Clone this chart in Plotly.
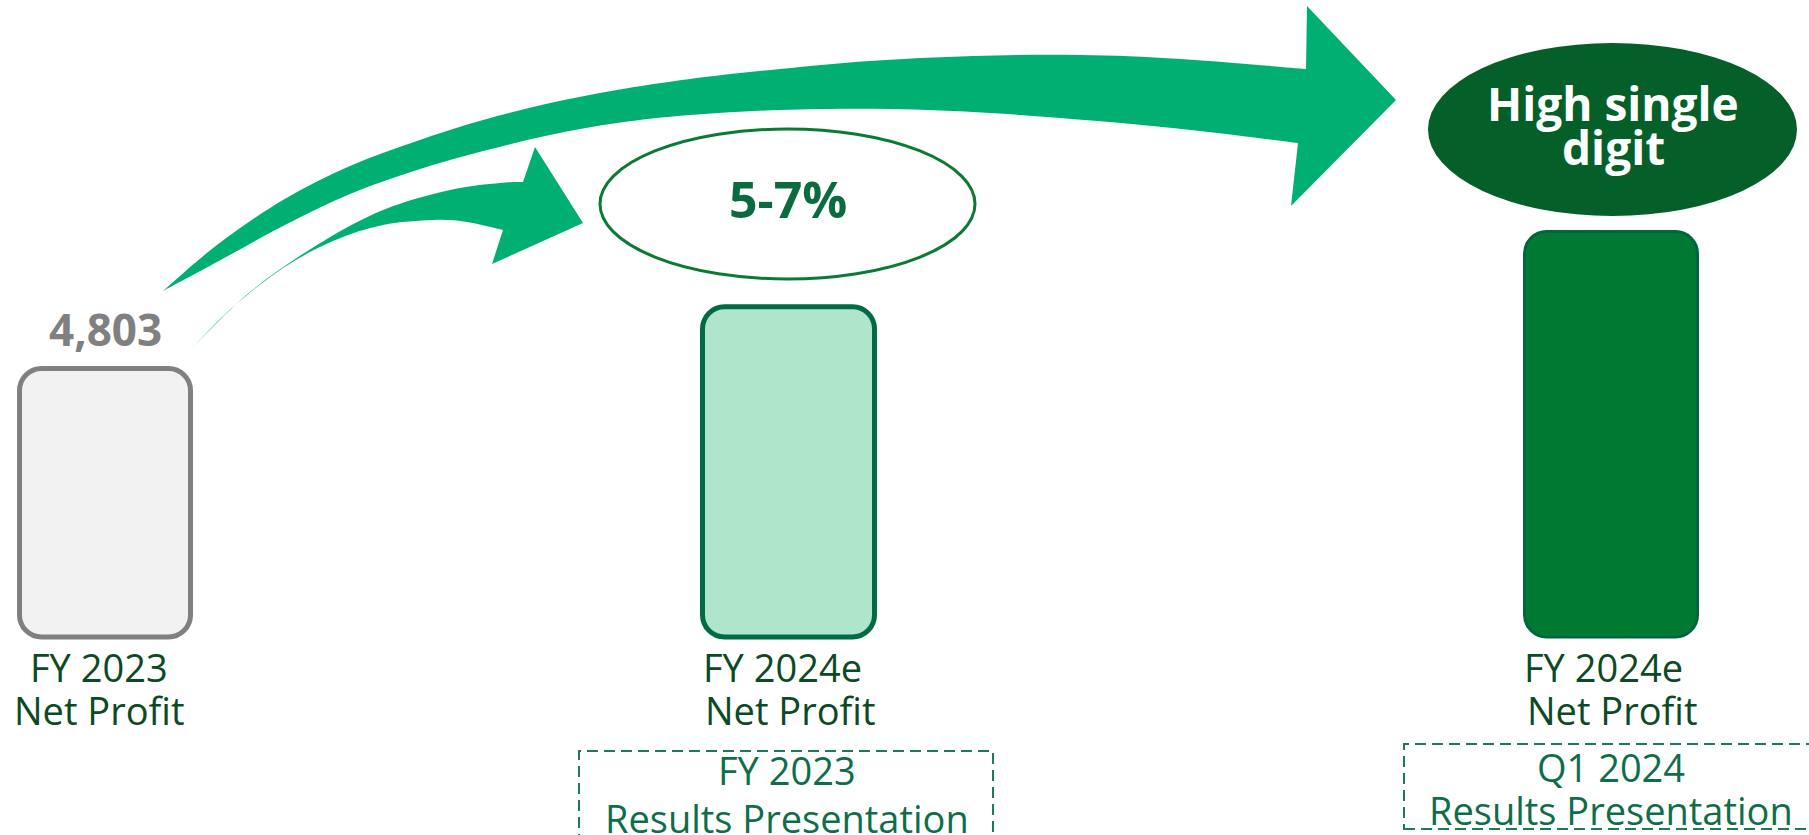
import plotly.graph_objects as go

# ---- data ----
label_line1 = ["FY 2023", "FY 2024e", "FY 2024e"]
label_line2 = ["Net Profit", "Net Profit", "Net Profit"]
bar_index = [100, 123, 151]          # drawn bar heights, FY 2023 = 100 (illustrative)
fy2023_value = "4,803"
guidance_mid = "5-7%"
guidance_q1 = ["High single", "digit"]
source_mid = ["FY 2023", "Results Presentation"]
source_q1 = ["Q1 2024", "Results Presentation"]

# ---- layout helpers: x axis runs in pixels, y axis in index units ----
W, H = 1809, 835
BASE_PX = 637
PX_PER_UNIT = 2.685


def yv(py):
    # pixel row -> y value
    return (BASE_PX - py) / PX_PER_UNIT


bar_x = [105, 788.5, 1611]
bar_w = [171, 172, 173]
line_w = [5, 5, 3]
fills = ["#F2F2F2", "#AEE5CB", "#007A33"]
edges = ["#808080", "#006B45", "#00663D"]
label_x1 = [99, 782, 1603]
label_x2 = [99, 790, 1612]

ARROW = "#00B073"
DARK = "#0C4A26"
MID = "#0F6E4A"

fig = go.Figure()

# explicit base -> plotly rounds both ends of each bar
fig.add_trace(go.Bar(
    x=bar_x, y=bar_index, base=[0] * len(bar_index), width=bar_w,
    marker=dict(color=fills, line=dict(color=edges, width=line_w), cornerradius=22),
    hoverinfo="skip",
))


def pt(p):
    return f"{p[0]:.1f},{yv(p[1]):.3f}"


def curve(pts):
    # smooth catmull-rom through the traced edge points, as bezier segments
    segs = []
    for i in range(len(pts) - 1):
        p0 = pts[i - 1] if i > 0 else pts[i]
        p1, p2 = pts[i], pts[i + 1]
        p3 = pts[i + 2] if i + 2 < len(pts) else p2
        c1 = (p1[0] + (p2[0] - p0[0]) / 6, p1[1] + (p2[1] - p0[1]) / 6)
        c2 = (p2[0] - (p3[0] - p1[0]) / 6, p2[1] - (p3[1] - p1[1]) / 6)
        segs.append(f"C{pt(c1)} {pt(c2)} {pt(p2)}")
    return " ".join(segs)


def arrow_path(upper, head, lower):
    s = "M" + pt(upper[0]) + " " + curve(upper)
    s += "".join(" L" + pt(p) for p in head)
    s += " L" + pt(lower[0]) + " " + curve(lower) + " Z"
    return s


big_upper = [(163, 291), (217, 245), (283, 200), (350, 166), (417, 141), (483, 120),
             (550, 103), (617, 90), (690, 79), (780, 69), (870, 61), (973, 56),
             (1080, 55), (1181, 59), (1306, 69)]
big_head = [(1307, 6), (1396, 100), (1291, 206)]
big_lower = [(1298, 143), (1200, 131), (1098, 121), (990, 113), (890, 109), (780, 110),
             (690, 115), (617, 123), (550, 135), (483, 151), (417, 170), (350, 194),
             (283, 226), (217, 262), (163, 291)]

small_upper = [(192, 348), (250, 292), (317, 245), (383, 210), (450, 190), (500, 183), (523, 182)]
small_head = [(535, 147), (583, 223), (492, 264)]
small_lower = [(503, 230), (467, 222), (433, 220), (383, 225), (333, 241), (283, 268),
               (233, 307), (192, 348)]

shapes = [
    dict(type="path", path=arrow_path(big_upper, big_head, big_lower),
         fillcolor=ARROW, line=dict(width=0)),
    dict(type="path", path=arrow_path(small_upper, small_head, small_lower),
         fillcolor=ARROW, line=dict(width=0)),
    # guidance bubbles
    dict(type="circle", x0=600, x1=975, y0=yv(279), y1=yv(129),
         line=dict(color="#0A7A35", width=3), fillcolor="rgba(0,0,0,0)"),
    dict(type="circle", x0=1428, x1=1797, y0=yv(216), y1=yv(43),
         line=dict(width=0), fillcolor="#045F29"),
    # dashed source boxes
    dict(type="rect", x0=579, x1=993, y0=yv(860), y1=yv(751),
         line=dict(color="#1E7A55", width=2, dash="11px,6px")),
    dict(type="rect", x0=1404, x1=1840, y0=yv(829), y1=yv(744),
         line=dict(color="#1E7A55", width=2, dash="11px,6px")),
]

annotations = []


def text(x, py, s, size, color, bold=False):
    annotations.append(dict(
        x=x, y=yv(py), text=s, showarrow=False, xanchor="center", yanchor="middle",
        font=dict(family="Open Sans", size=size, color=color, weight=700 if bold else 400),
    ))


text(bar_x[0], 329, fy2023_value, 44, "#808080", bold=True)
text(788, 199, guidance_mid, 50, "#0A6B40", bold=True)
text(1613, 103, guidance_q1[0], 46, "white", bold=True)
text(1613, 147, guidance_q1[1], 46, "white", bold=True)

for x1, x2, l1, l2 in zip(label_x1, label_x2, label_line1, label_line2):
    text(x1, 667, l1, 38, DARK)
    text(x2, 710, l2, 38, DARK)

text(787, 770, source_mid[0], 38, MID)
text(787, 818, source_mid[1], 38, MID)
text(1611, 767, source_q1[0], 38, MID)
text(1611, 810, source_q1[1], 38, MID)

fig.update_layout(
    width=W, height=H,
    margin=dict(l=0, r=0, t=0, b=0),
    barmode="overlay",
    showlegend=False,
    plot_bgcolor="white",
    paper_bgcolor="white",
    xaxis=dict(range=[0, W], visible=False, fixedrange=True),
    yaxis=dict(range=[yv(H), yv(0)], visible=False, fixedrange=True),
    shapes=shapes,
    annotations=annotations,
    hovermode=False,
)

fig.write_html("out.html", config={"displayModeBar": False},
               post_script="document.body.style.margin='0';")
